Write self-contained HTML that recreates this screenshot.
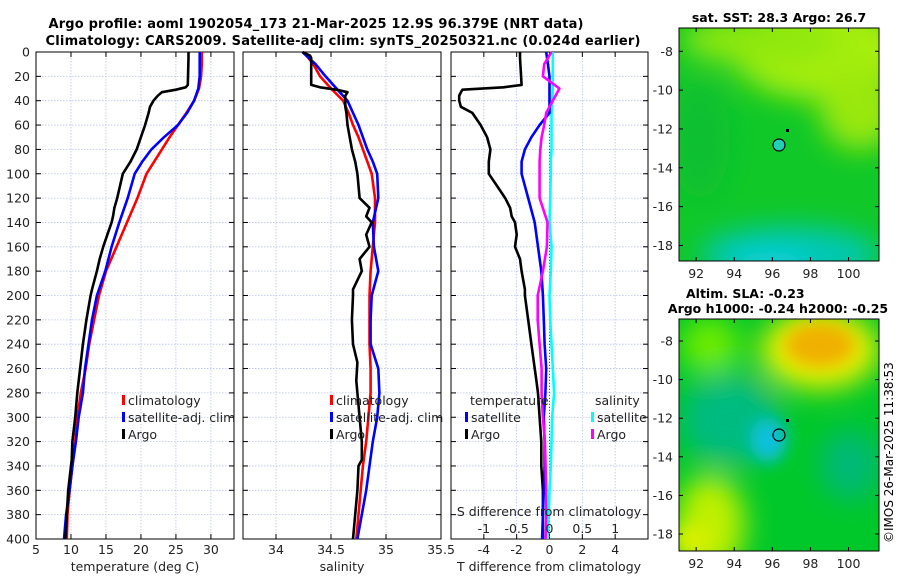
<!DOCTYPE html>
<html><head><meta charset="utf-8"><style>
html,body{margin:0;padding:0;background:#fff}
svg{display:block;font-family:"DejaVu Sans","Liberation Sans",sans-serif}
</style></head><body>
<svg id="fig" width="900" height="580" viewBox="0 0 900 580" xmlns="http://www.w3.org/2000/svg">
<defs>
<filter id="blr" x="-50%" y="-50%" width="200%" height="200%"><feGaussianBlur stdDeviation="14"/></filter>
<filter id="blr2" x="-50%" y="-50%" width="200%" height="200%"><feGaussianBlur stdDeviation="8"/></filter>
<clipPath id="cm1"><rect x="679" y="28" width="200" height="233"/></clipPath>
<clipPath id="cm2"><rect x="679" y="319" width="200" height="232"/></clipPath>
</defs>
<text x="316" y="28" text-anchor="middle" font-weight="bold" font-size="13" textLength="535">Argo profile: aoml 1902054_173 21-Mar-2025 12.9S 96.379E (NRT data)</text>
<text x="343" y="45" text-anchor="middle" font-weight="bold" font-size="13" textLength="595">Climatology: CARS2009. Satellite-adj clim: synTS_20250321.nc (0.024d earlier)</text>
<g id="plots"></g>
<g>
<g clip-path="url(#cm1)">
<rect x="679" y="28" width="200" height="233" fill="#10c828"/>
<g filter="url(#blr)">
<ellipse cx="820" cy="50" rx="90" ry="50" fill="#a6ee08"/>
<ellipse cx="760" cy="40" rx="80" ry="25" fill="#8fe810"/>
<ellipse cx="860" cy="110" rx="40" ry="40" fill="#9ae80c"/>
<ellipse cx="790" cy="255" rx="90" ry="28" fill="#00c8b8"/>
<ellipse cx="770" cy="265" rx="40" ry="14" fill="#10d0e0"/>
<ellipse cx="700" cy="140" rx="30" ry="60" fill="#08c030"/>
</g>
</g>
<rect x="679" y="28" width="200" height="233" fill="none" stroke="#000" stroke-width="1"/>
<circle cx="779" cy="145" r="6" fill="#20d0b8" stroke="#000" stroke-width="1.2"/>
<rect x="786" y="129" width="3" height="3" fill="#000"/>
</g>
<text x="779" y="22" text-anchor="middle" font-weight="bold" font-size="12.5">sat. SST: 28.3 Argo: 26.7</text>
<g>
<g clip-path="url(#cm2)">
<rect x="679" y="319" width="200" height="232" fill="#00c82a"/>
<g filter="url(#blr)">
<ellipse cx="710" cy="345" rx="30" ry="28" fill="#70ec00"/>
<ellipse cx="730" cy="420" rx="50" ry="45" fill="#00bb80"/>
<ellipse cx="850" cy="465" rx="30" ry="35" fill="#00b878"/>
<ellipse cx="820" cy="350" rx="60" ry="40" fill="#e8f000"/>
<ellipse cx="710" cy="525" rx="35" ry="50" fill="#c0f000"/>
</g>
<g filter="url(#blr2)">
<ellipse cx="820" cy="345" rx="35" ry="22" fill="#f0b000"/>
<ellipse cx="768" cy="440" rx="18" ry="22" fill="#10c0e0"/>
<ellipse cx="693" cy="540" rx="18" ry="16" fill="#d8f000"/>
</g>
</g>
<rect x="679" y="319" width="200" height="232" fill="none" stroke="#000" stroke-width="1"/>
<circle cx="779" cy="435" r="6" fill="none" stroke="#000" stroke-width="1.2"/>
<rect x="786" y="419" width="3" height="3" fill="#000"/>
</g>
<text x="686" y="298" font-weight="bold" font-size="12.5">Altim. SLA: -0.23</text>
<text x="778" y="313" text-anchor="middle" font-weight="bold" font-size="12.5">Argo h1000: -0.24 h2000: -0.25</text>
<text transform="translate(893,543) rotate(-90)" font-size="12">©IMOS 26-Mar-2025 11:38:53</text>
</svg>
<script>
// ===== data =====
const depthTicks = [0,20,40,60,80,100,120,140,160,180,200,220,240,260,280,300,320,340,360,380,400];
const tempTicks = [5,10,15,20,25,30];
const salTicks = [34,34.5,35,35.5];
const tdTicks = [-4,-2,0,2,4];
const sdTicks = [-1,-0.5,0,0.5,1];
const sdTickLabels = ['-1','-0.5','0','0.5','1'];
const lonTicks = [92,94,96,98,100];
const latTicks = [-8,-10,-12,-14,-16,-18];

const depthClim = [0,10,20,30,40,50,60,70,80,90,100,120,140,160,180,200,220,240,260,280,300,320,340,360,380,400];
const tempClim  = [28.7,28.7,28.6,28.3,27.6,26.5,25.3,24.1,23,21.9,20.8,19.5,18,16.5,15,14,13.3,12.6,12.1,11.4,10.9,10.6,10.2,9.8,9.5,9.4];
const tempSat   = [28.4,28.4,28.4,28.2,27.6,26.6,25.3,23.3,21.5,20.2,19.1,18.1,16.9,15.8,14.9,13.7,13,12.5,12,11.7,11.1,10.7,10.2,9.8,9.3,9];
const salClim   = [34.25,34.34,34.40,34.50,34.61,34.66,34.70,34.75,34.79,34.83,34.87,34.9,34.9,34.88,34.86,34.85,34.85,34.85,34.86,34.86,34.84,34.82,34.79,34.77,34.75,34.73];
const salSat    = [34.24,34.36,34.45,34.55,34.65,34.70,34.75,34.79,34.83,34.88,34.92,34.93,34.88,34.89,34.93,34.87,34.86,34.86,34.93,34.94,34.92,34.88,34.85,34.82,34.78,34.74];

const depthArgo = [0,3,5,27,29,31,33,36,40,45,50,60,70,80,90,100,110,120,128,135,140,150,160,170,180,195,200,220,240,255,270,280,300,320,335,340,360,380,400];
const tempArgo  = [26.8,26.8,26.8,26.7,26.4,25,23,22.4,21.8,21.3,21.1,20.6,20,19.4,18.5,17.4,17,16.6,16.2,16,15.8,15.2,14.6,14.1,13.7,13,12.8,12.2,11.7,11.4,11.1,10.9,10.6,10.2,10.1,10,9.6,9.4,9.2];
const salArgo   = [34.24,34.31,34.32,34.32,34.4,34.55,34.65,34.63,34.63,34.63,34.64,34.65,34.67,34.69,34.72,34.74,34.75,34.76,34.85,34.82,34.87,34.82,34.85,34.76,34.78,34.70,34.70,34.69,34.70,34.74,34.73,34.74,34.76,34.78,34.78,34.75,34.74,34.72,34.7];
const tdArgo    = [-1.8,-1.8,-1.8,-1.7,-2.8,-5.3,-5.4,-5.5,-5.5,-5.4,-4.7,-4.2,-3.8,-3.6,-3.7,-3.7,-3.2,-2.7,-2.4,-2.3,-2.1,-2,-2.1,-1.8,-1.7,-1.5,-1.5,-1.3,-1.1,-0.95,-0.8,-0.7,-0.6,-0.5,-0.5,-0.5,-0.4,-0.4,-0.4];

const depthDiff = [0,10,20,30,40,50,60,70,80,90,100,120,140,160,180,200,220,240,260,280,300,320,340,360,380,400];
const tdSat   = [-0.2,-0.1,0,0,0,0,-0.6,-1.1,-1.5,-1.7,-1.7,-1.3,-0.9,-0.7,-0.5,-0.4,-0.35,-0.3,-0.2,-0.25,-0.35,-0.3,-0.3,-0.35,-0.4,-0.45];
const sdArgo  = [0.03,-0.08,-0.1,0.15,0.05,-0.05,-0.08,-0.12,-0.14,-0.15,-0.15,-0.15,-0.03,-0.04,-0.1,-0.18,-0.18,-0.15,-0.12,-0.12,-0.1,-0.07,-0.06,-0.05,-0.05,-0.06];
const sdSat   = [0.05,0.05,0.05,0.05,0.04,0.03,0.03,0.03,0.03,0.02,0.02,0.01,0,0.03,0.02,0,0.01,0.03,0.05,0.07,0.04,0.03,0.02,0,-0.01,-0.03];

// ===== layout =====
const NS='http://www.w3.org/2000/svg';
const plots=document.getElementById('plots');
const Y0=52, Y1=539;
function yScale(d){return Y0+(d/400)*(Y1-Y0);}
function mk(tag,attrs,parent){const e=document.createElementNS(NS,tag);for(const k in attrs)e.setAttribute(k,attrs[k]);(parent||plots).appendChild(e);return e;}
function linS(d0,d1,r0,r1){return v=>r0+(v-d0)/(d1-d0)*(r1-r0);}

const panels=[
 {name:'temperature-panel',x0:36,x1:234,sx:linS(5,33.3,36,234),ticks:tempTicks,labels:tempTicks.map(String)},
 {name:'salinity-panel',x0:243,x1:441,sx:linS(33.7,35.5,243,441),ticks:salTicks,labels:salTicks.map(String)},
 {name:'difference-panel',x0:451,x1:648,sx:linS(-6,6,451,648),ticks:tdTicks,labels:tdTicks.map(String)}
];
const sdx=linS(-1.5,1.5,451,648);

panels.forEach((p,pi)=>{
  const g=mk('g',{});
  
  
  // grid
  depthTicks.forEach(d=>{const l=mk('line',{x1:p.x0,x2:p.x1,y1:yScale(d),y2:yScale(d),stroke:'#b8c4ec','stroke-width':0.8,'stroke-dasharray':'1.5,1.5'},g);
    });
  p.ticks.forEach(t=>{const l=mk('line',{x1:p.sx(t),x2:p.sx(t),y1:Y0,y2:Y1,stroke:'#b8c4ec','stroke-width':0.8,'stroke-dasharray':'1.5,1.5'},g);
    });
  // ticks
  depthTicks.forEach(d=>{const y=yScale(d);
    mk('line',{x1:p.x0,x2:p.x0+5,y1:y,y2:y,stroke:'#000'},g);
    mk('line',{x1:p.x1,x2:p.x1-5,y1:y,y2:y,stroke:'#000'},g);
    if(pi===0){const t=mk('text',{x:30,y:y+4.5,'text-anchor':'end','font-size':12.5,fill:'#222'},g);t.textContent=d;
      }
  });
  p.ticks.forEach((t,i)=>{const x=p.sx(t);
    mk('line',{x1:x,x2:x,y1:Y1,y2:Y1-5,stroke:'#000'},g);
    mk('line',{x1:x,x2:x,y1:Y0,y2:Y0+5,stroke:'#000'},g);
    const tx=mk('text',{x:x,y:554,'text-anchor':'middle','font-size':12.5,fill:'#222'},g);tx.textContent=p.labels[i];
    
  });
  const fr=mk('rect',{x:p.x0,y:Y0,width:p.x1-p.x0,height:Y1-Y0,fill:'none',stroke:'#000','stroke-width':1},g);
  
});

function line(xs,ds,sx,color,name,w){
  const pts=xs.map((v,i)=>sx(v).toFixed(1)+','+yScale(ds[i]).toFixed(1)).join(' ');
  const l=mk('polyline',{points:pts,fill:'none',stroke:color,'stroke-width':w||2.6,'stroke-linejoin':'round'});
  
  
}
const P=panels;
line(tempClim,depthClim,P[0].sx,'#ff0000','temp-climatology-line');
line(tempSat,depthClim,P[0].sx,'#0000ff','temp-satellite-line');
line(tempArgo,depthArgo,P[0].sx,'#000','temp-argo-line');
line(salClim,depthClim,P[1].sx,'#ff0000','sal-climatology-line');
line(salSat,depthClim,P[1].sx,'#0000ff','sal-satellite-line');
line(salArgo,depthArgo,P[1].sx,'#000','sal-argo-line');
// zero line
const z=mk('line',{x1:P[2].sx(0),x2:P[2].sx(0),y1:yScale(60),y2:Y1,stroke:'#555','stroke-width':1,'stroke-dasharray':'1,2'});

line(sdSat,depthDiff,sdx,'#00ffff','sal-diff-satellite-line');
line(tdArgo,depthArgo,P[2].sx,'#000','temp-diff-argo-line');
line(tdSat,depthDiff,P[2].sx,'#0000ff','temp-diff-satellite-line');
line(sdArgo,depthDiff,sdx,'#ff00ff','sal-diff-argo-line');

// S axis inside panel 3
sdTicks.forEach((t,i)=>{const tx=mk('text',{x:sdx(t),y:533,'text-anchor':'middle','font-size':12.5,fill:'#222'});tx.textContent=sdTickLabels[i];
  });
function txt(x,y,s,name,opts){const t=mk('text',Object.assign({x:x,y:y,'font-size':12.5,fill:'#222'},opts||{}));t.textContent=s;
  return t;}
txt(549,516,'S difference from climatology','s-diff-axis-title',{'text-anchor':'middle'});
txt(135,571,'temperature (deg C)','temp-axis-title',{'text-anchor':'middle'});
txt(342,571,'salinity','salinity-axis-title',{'text-anchor':'middle'});
txt(549,571,'T difference from climatology','t-diff-axis-title',{'text-anchor':'middle'});

function leg(x,y,color,label,name){
  const r=mk('rect',{x:x,y:y-10,width:3,height:10,fill:color});
  
  txt(x+6,y,label,name);
}
leg(122,405,'#ff0000','climatology','legend-climatology');
leg(122,422,'#0000ff','satellite-adj. clim','legend-satellite-adj');
leg(122,439,'#000','Argo','legend-argo');
leg(330,405,'#ff0000','climatology','legend2-climatology');
leg(330,422,'#0000ff','satellite-adj. clim','legend2-satellite-adj');
leg(330,439,'#000','Argo','legend2-argo');
txt(470,405,'temperature','legend-temperature-header');
txt(595,405,'salinity','legend-salinity-header');
leg(465,422,'#0000ff','satellite','legend-t-satellite');
leg(465,439,'#000','Argo','legend-t-argo');
leg(591,422,'#00ffff','satellite','legend-s-satellite');
leg(591,439,'#ff00ff','Argo','legend-s-argo');

// map axes
const svg=document.getElementById('fig');
const lonX=linS(91.1,101.6,679,879);
function mapAxes(top,bottom,latTop,latBot,nm){
  const ly=linS(latTop,latBot,top,bottom);
  lonTicks.forEach(l=>{const x=lonX(l);
    mk('line',{x1:x,x2:x,y1:bottom,y2:bottom-4,stroke:'#000'},svg);
    mk('line',{x1:x,x2:x,y1:top,y2:top+4,stroke:'#000'},svg);
    const t=mk('text',{x:x,y:bottom+17,'text-anchor':'middle','font-size':12.5,fill:'#222'},svg);t.textContent=l;
    });
  latTicks.forEach(l=>{const y=ly(l);
    mk('line',{x1:679,x2:683,y1:y,y2:y,stroke:'#000'},svg);
    mk('line',{x1:879,x2:875,y1:y,y2:y,stroke:'#000'},svg);
    const t=mk('text',{x:673,y:y+4.5,'text-anchor':'end','font-size':12.5,fill:'#222'},svg);t.textContent=l;
    });
}
mapAxes(28,261,-6.8,-18.8,'sst-map');
mapAxes(319,551,-6.86,-18.88,'sla-map');
</script>
</body></html>
